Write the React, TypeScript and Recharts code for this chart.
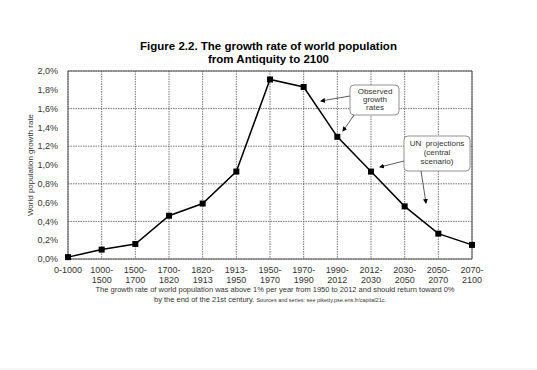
import React from 'react';
import { LineChart, Line, XAxis, YAxis, CartesianGrid, ReferenceLine } from 'recharts';

const periods = [
  '0-1000', '1000-1500', '1500-1700', '1700-1820', '1820-1913', '1913-1950', '1950-1970',
  '1970-1990', '1990-2012', '2012-2030', '2030-2050', '2050-2070', '2070-2100',
];
const growthRates = [0.02, 0.1, 0.16, 0.46, 0.59, 0.93, 1.91, 1.83, 1.3, 0.93, 0.56, 0.27, 0.15];
const yTicks = [0, 0.2, 0.4, 0.6, 0.8, 1.0, 1.2, 1.4, 1.6, 1.8, 2.0];

const data = periods.map((period, i) => ({ period, rate: growthRates[i] }));

const FONT = '"Liberation Sans", Arial, sans-serif';

const fmtPct = (v: number) => v.toFixed(1).replace('.', ',') + '%';

const PeriodTick = ({ x, y, payload }: any) => {
  const v: string = payload.value;
  const parts = v === '0-1000' ? [v] : [v.split('-')[0] + '-', v.split('-')[1]];
  return (
    <text x={x} y={y} textAnchor="middle" fontSize={9} fill="#333" fontFamily={FONT}>
      {parts.map((p, i) => (
        <tspan key={i} x={x} dy={i === 0 ? 6 : 9.5}>{p}</tspan>
      ))}
    </text>
  );
};

const SquareDot = ({ cx, cy }: any) => (
  <rect x={cx - 3} y={cy - 3} width={6} height={6} fill="#000" />
);

export default function App() {
  return (
    <div style={{ position: 'absolute', left: 0, top: 0, width: 537, height: 370, background: '#fff', fontFamily: FONT }}>
      <div style={{ position: 'absolute', left: 0, top: 40, width: 537, textAlign: 'center', fontWeight: 'bold', fontSize: 11.5, lineHeight: '13px', color: '#000' }}>
        Figure 2.2. The growth rate of world population<br />from Antiquity to 2100
      </div>
      <div style={{ position: 'absolute', left: 0, top: 0 }}>
        <LineChart width={537} height={370} data={data} margin={{ top: 71, right: 65, bottom: 81, left: 28 }}>
          <CartesianGrid stroke="#555" strokeDasharray="1.5 1" strokeWidth={0.8} />
          <XAxis
            dataKey="period"
            interval={0}
            tick={<PeriodTick />}
            tickLine={false}
            axisLine={{ stroke: '#555', strokeWidth: 1 }}
            height={30}
          />
          <YAxis
            domain={[0, 2]}
            ticks={yTicks}
            tickFormatter={fmtPct}
            tickLine={false}
            axisLine={{ stroke: '#555', strokeWidth: 1 }}
            width={40}
            tick={{ fontSize: 9, fill: '#333', fontFamily: FONT }}
            tickMargin={4}
          />
          <ReferenceLine y={2} stroke="#555" strokeWidth={1} />
          <ReferenceLine x="2070-2100" stroke="#555" strokeWidth={1} />
          <Line
            type="linear"
            dataKey="rate"
            stroke="#000"
            strokeWidth={1.5}
            dot={<SquareDot />}
            activeDot={false}
            isAnimationActive={false}
          />
        </LineChart>
      </div>
      <svg width={537} height={370} style={{ position: 'absolute', left: 0, top: 0, pointerEvents: 'none' }}>
        <defs>
          <marker id="arr" markerWidth="5" markerHeight="5" refX="4" refY="2.5" orient="auto" markerUnits="userSpaceOnUse">
            <path d="M0,0 L5,2.5 L0,5 z" fill="#000" />
          </marker>
        </defs>
        <text x={33} y={165} transform="rotate(-90 33 165)" textAnchor="middle" fontFamily={FONT} fontSize={8} fill="#333">
          World population growth rate
        </text>
        <g fontFamily={FONT} fontSize={8} fill="#333" textAnchor="middle">
          <rect x={350} y={85} width={49} height={30} rx={4} fill="#fff" stroke="#777" strokeWidth={0.8} />
          <text x={375} y={94}>Observed</text>
          <text x={375} y={102}>growth</text>
          <text x={375} y={110}>rates</text>
          <rect x={404} y={136} width={66} height={35} rx={4} fill="#fff" stroke="#777" strokeWidth={0.8} />
          <text x={437} y={146} xmlSpace="preserve">UN  projections</text>
          <text x={437} y={155}>(central</text>
          <text x={437} y={164}>scenario)</text>
        </g>
        <g stroke="#333" strokeWidth={0.8} markerEnd="url(#arr)">
          <line x1={350} y1={96} x2={321} y2={101} />
          <line x1={354} y1={115} x2={343} y2={131} />
          <line x1={404} y1={161} x2={380} y2={167} />
          <line x1={421} y1={171} x2={426} y2={203} />
        </g>
        <g fontFamily={FONT} fill="#333" textAnchor="middle">
          <text x={275} y={292} fontSize={7.5}>The growth rate of world population was above 1% per year from 1950 to 2012 and should return toward 0%</text>
          <text x={270} y={302} fontSize={7.5}>
            by the end of the 21st century. <tspan fontSize={5.5}>Sources and series: see piketty.pse.ens.fr/capital21c.</tspan>
          </text>
        </g>
        <line x1={0} y1={369} x2={537} y2={369} stroke="#eee" strokeWidth={1} />
      </svg>
    </div>
  );
}
